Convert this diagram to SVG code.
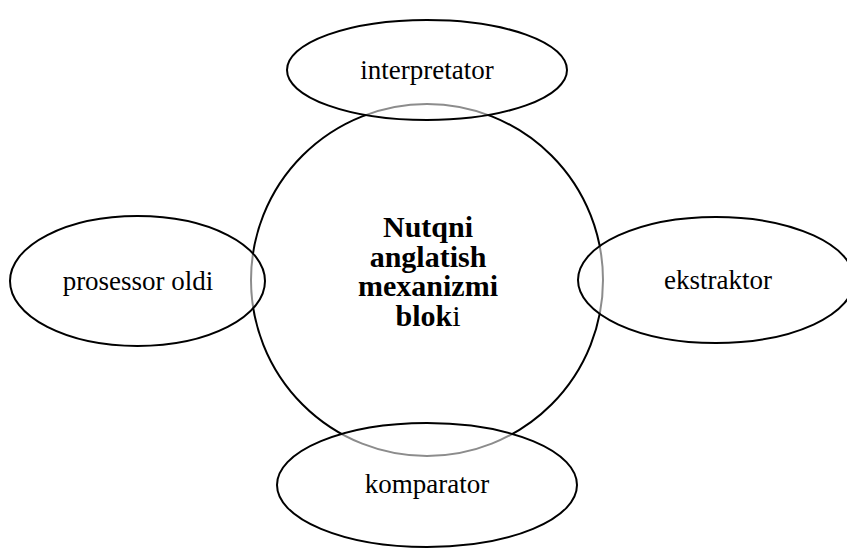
<svg xmlns="http://www.w3.org/2000/svg" width="847" height="550" viewBox="0 0 847 550">
<style>
.shape{stroke:#000;stroke-width:2}
.node{fill:#fff;fill-opacity:0.55}
.lbl{font-family:"Liberation Serif","Times New Roman",serif;font-size:27px;fill:#000;text-anchor:middle}
.main{font-family:"Liberation Serif","Times New Roman",serif;font-size:30px;font-weight:bold;fill:#000;text-anchor:middle}
</style>
<rect width="847" height="550" fill="#fff"/>
<g id="center">
<circle class="shape" cx="427" cy="280" r="176" fill="none"/>
</g>
<g id="interpretator">
<ellipse class="shape node" cx="427" cy="70" rx="140" ry="50"/>
<text class="lbl" x="427" y="79">interpretator</text>
</g>
<g id="prosessor-oldi">
<ellipse class="shape node" cx="137.5" cy="281" rx="127.5" ry="65"/>
<text class="lbl" x="138" y="290">prosessor oldi</text>
</g>
<g id="ekstraktor">
<ellipse class="shape node" cx="716" cy="280" rx="138" ry="63"/>
<text class="lbl" x="718" y="289">ekstraktor</text>
</g>
<g id="komparator">
<ellipse class="shape node" cx="427" cy="485" rx="150" ry="62"/>
<text class="lbl" x="427" y="493">komparator</text>
</g>
<g id="center-label">
<text class="main" x="428" y="237">Nutqni</text>
<text class="main" x="428" y="267">anglatish</text>
<text class="main" x="428" y="296">mexanizmi</text>
<text class="main" x="428" y="326">blok<tspan font-weight="normal">i</tspan></text>
</g>
<g id="connectors"></g>
</svg>
